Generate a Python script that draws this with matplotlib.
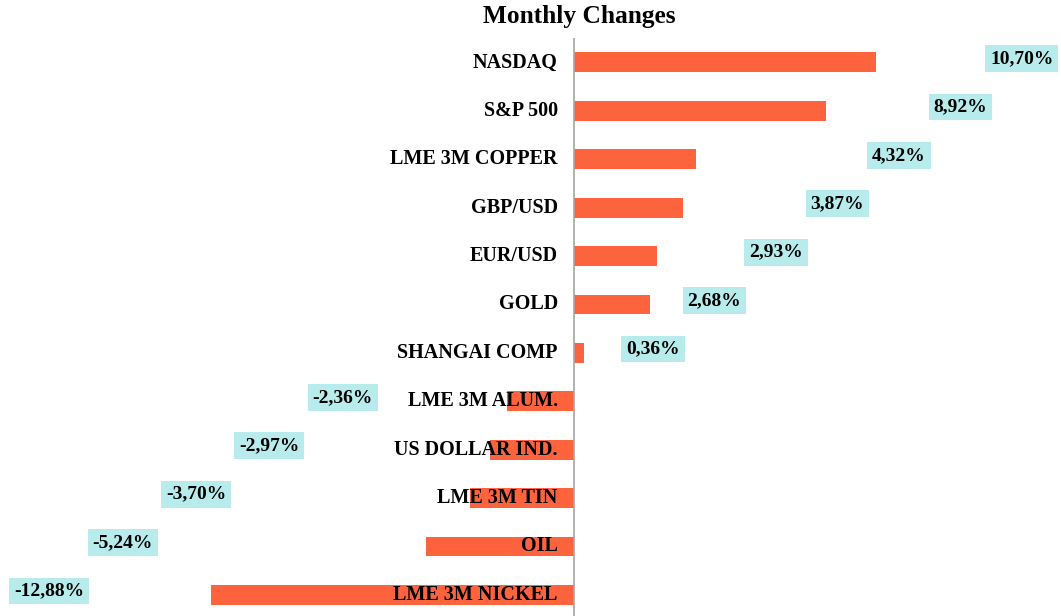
import matplotlib
matplotlib.use("Agg")
import matplotlib.pyplot as plt

categories = ["NASDAQ", "S&P 500", "LME 3M COPPER", "GBP/USD", "EUR/USD", "GOLD",
              "SHANGAI COMP", "LME 3M ALUM.", "US DOLLAR IND.", "LME 3M TIN", "OIL",
              "LME 3M NICKEL"]
values = [10.70, 8.92, 4.32, 3.87, 2.93, 2.68, 0.36, -2.36, -2.97, -3.70, -5.24, -12.88]
value_labels = ["10,70%", "8,92%", "4,32%", "3,87%", "2,93%", "2,68%", "0,36%",
                "-2,36%", "-2,97%", "-3,70%", "-5,24%", "-12,88%"]

BAR = "#FD633D"
BOX = "#B8ECEC"
FONT = "Liberation Serif"

fig = plt.figure(figsize=(10.61, 6.16), dpi=100)
ax = fig.add_axes([0, -0.005, 1, 0.943])
ax.set_xlim(-20.35, 17.27)
ax.set_ylim(len(categories) - 0.5, -0.5)

ys = list(range(len(categories)))
ax.barh(ys, values, height=0.41, color=BAR, zorder=1)
ax.axvline(0, color="#a6a6a6", lw=1.2, zorder=3)

n_pos = sum(1 for v in values if v >= 0)
for i, (v, lab, cat) in enumerate(zip(values, value_labels, categories)):
    ax.text(-0.57, i, cat, ha="right", va="center", fontfamily=FONT,
            fontweight="bold", fontsize=14.5, zorder=4)
    if v >= 0:
        lx = 2.8 + 2.18 * (n_pos - 1 - i)
    else:
        lx = -8.2 - 2.6 * (i - n_pos)
    ax.text(lx, i - 0.08, lab, ha="center", va="center", fontfamily=FONT,
            fontweight="bold", fontsize=14, zorder=4,
            bbox=dict(boxstyle="square,pad=0.25", fc=BOX, ec="none"))

for s in ax.spines.values():
    s.set_visible(False)
ax.set_xticks([])
ax.set_yticks([])

fig.text(0.5457, 1 - 17 / 616, "Monthly Changes", ha="center", va="center",
         fontfamily=FONT, fontweight="bold", fontsize=18.3)

fig.savefig("out.png", dpi=100)
